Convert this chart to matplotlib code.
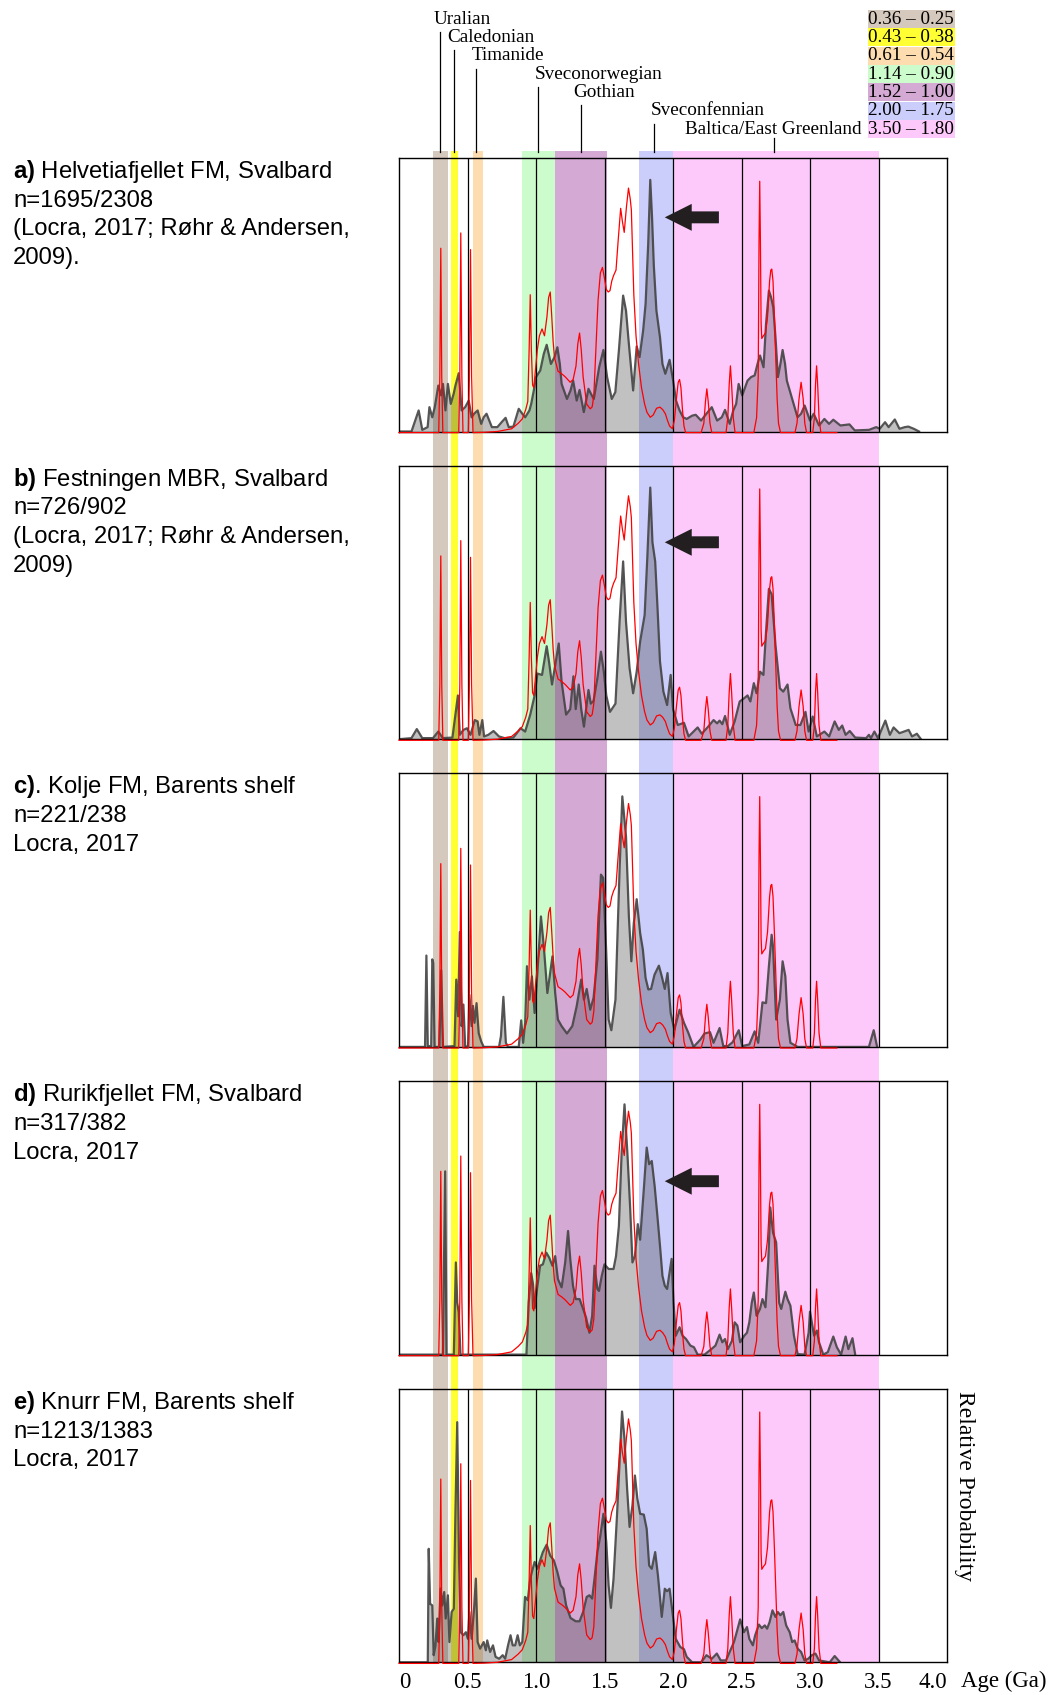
import numpy as np
import matplotlib.pyplot as plt

plt.rcParams['font.family'] = ['Liberation Sans', 'DejaVu Sans']
plt.rcParams['mathtext.fontset'] = 'custom'
plt.rcParams['mathtext.rm'] = 'Liberation Sans'
plt.rcParams['mathtext.bf'] = 'Liberation Sans:bold'
SERIF = ['Liberation Serif', 'DejaVu Serif']

# ---------------- data (age in Ga, relative probability as fraction of panel) ----------------
# red reference curve, same in every panel
red_curve = [(0.0, -0.004), (0.29, -0.004), (0.298, 0.2), (0.305, 0.67), (0.312, 0.2), (0.32, -0.004),
             (0.436, -0.004), (0.444, 0.2), (0.451, 0.726), (0.459, 0.2), (0.467, -0.004),
             (0.506, -0.004), (0.514, 0.2), (0.522, 0.665), (0.53, 0.2), (0.54, -0.004),
             (0.62, -0.003), (0.718, 0.0), (0.822, 0.01), (0.87, 0.03), (0.90, 0.046), (0.925, 0.08),
             (0.94, 0.11), (0.95, 0.3), (0.958, 0.50), (0.966, 0.3), (0.975, 0.17), (0.984, 0.16),
             (0.995, 0.22), (1.01, 0.30), (1.025, 0.35), (1.044, 0.375), (1.062, 0.35), (1.08, 0.42),
             (1.092, 0.49), (1.104, 0.51), (1.115, 0.42), (1.125, 0.33), (1.135, 0.27), (1.161, 0.22),
             (1.19, 0.21), (1.213, 0.20), (1.25, 0.18), (1.271, 0.19), (1.292, 0.24), (1.305, 0.32),
             (1.318, 0.36), (1.33, 0.3), (1.344, 0.2), (1.37, 0.10), (1.396, 0.083), (1.41, 0.09),
             (1.422, 0.13), (1.435, 0.28), (1.453, 0.48), (1.47, 0.58), (1.485, 0.60), (1.5, 0.56),
             (1.513, 0.52), (1.527, 0.51), (1.54, 0.515), (1.553, 0.55), (1.566, 0.57), (1.584, 0.59),
             (1.6, 0.7), (1.618, 0.816), (1.63, 0.77), (1.644, 0.728), (1.66, 0.82), (1.675, 0.89),
             (1.688, 0.85), (1.696, 0.81), (1.705, 0.65), (1.714, 0.50), (1.73, 0.35), (1.748, 0.25),
             (1.77, 0.16), (1.793, 0.10), (1.81, 0.07), (1.834, 0.052), (1.855, 0.06), (1.88, 0.085),
             (1.905, 0.089), (1.925, 0.08), (1.944, 0.065), (1.96, 0.04), (1.975, 0.02), (1.996, 0.01),
             (2.01, 0.04), (2.025, 0.12), (2.038, 0.18), (2.048, 0.19), (2.058, 0.16), (2.069, 0.08),
             (2.08, 0.02), (2.092, -0.004),
             (2.205, -0.004), (2.225, 0.03), (2.237, 0.11), (2.247, 0.156), (2.257, 0.11), (2.27, 0.03),
             (2.283, -0.004),
             (2.387, -0.004), (2.4, 0.05), (2.41, 0.17), (2.419, 0.24), (2.428, 0.17), (2.44, 0.05),
             (2.453, -0.004),
             (2.59, -0.004), (2.61, 0.05), (2.622, 0.2), (2.628, 0.7), (2.633, 0.915), (2.638, 0.7),
             (2.643, 0.4), (2.648, 0.34), (2.66, 0.35), (2.675, 0.36), (2.69, 0.42), (2.705, 0.55),
             (2.714, 0.59), (2.721, 0.594), (2.73, 0.55), (2.74, 0.42), (2.748, 0.3), (2.76, 0.12),
             (2.77, 0.03), (2.785, -0.004),
             (2.89, -0.004), (2.905, 0.03), (2.92, 0.12), (2.935, 0.18), (2.95, 0.12), (2.962, 0.03),
             (2.975, -0.004),
             (3.02, -0.004), (3.032, 0.05), (3.04, 0.17), (3.048, 0.24), (3.056, 0.17), (3.066, 0.05),
             (3.079, -0.004), (3.196, -0.004)]

helvetiafjellet = [(0, 0), (0.091, 0), (0.1435, 0.077), (0.17, 0.006), (0.209, 0.016), (0.222, 0.089),
                   (0.243, 0.052), (0.261, 0.089), (0.287, 0.168), (0.308, 0.132), (0.321, 0.174),
                   (0.339, 0.077), (0.357, 0.174), (0.378, 0.101), (0.399, 0.138), (0.412, 0.168),
                   (0.436, 0.213), (0.457, 0.077), (0.483, 0.089), (0.509, 0.113), (0.53, 0.052),
                   (0.548, 0.065), (0.574, 0.077), (0.6, 0.028), (0.618, 0.052), (0.639, 0.065),
                   (0.678, 0.016), (0.718, 0.016), (0.749, 0.034), (0.778, 0.05), (0.801, 0.016),
                   (0.835, 0.018), (0.874, 0.083), (0.9, 0.065), (0.921, 0.052), (0.952, 0.077),
                   (0.965, 0.101), (0.984, 0.15), (1.0, 0.199), (1.031, 0.223), (1.057, 0.284),
                   (1.078, 0.317), (1.109, 0.247), (1.135, 0.272), (1.156, 0.308), (1.174, 0.247),
                   (1.187, 0.174), (1.226, 0.119), (1.252, 0.15), (1.271, 0.186), (1.297, 0.113),
                   (1.318, 0.152), (1.349, 0.071), (1.383, 0.156), (1.401, 0.138), (1.422, 0.119),
                   (1.461, 0.235), (1.492, 0.298), (1.519, 0.199), (1.553, 0.119), (1.579, 0.144),
                   (1.605, 0.296), (1.636, 0.497), (1.657, 0.442), (1.678, 0.32), (1.709, 0.15),
                   (1.735, 0.311), (1.756, 0.272), (1.782, 0.369), (1.8, 0.467), (1.819, 0.686),
                   (1.834, 0.92), (1.847, 0.783), (1.86, 0.607), (1.879, 0.442), (1.905, 0.345),
                   (1.923, 0.247), (1.944, 0.211), (1.975, 0.262), (2.001, 0.186), (2.022, 0.113),
                   (2.048, 0.077), (2.074, 0.052), (2.1, 0.046), (2.14, 0.058), (2.166, 0.061),
                   (2.205, 0.04), (2.244, 0.065), (2.283, 0.089), (2.322, 0.04), (2.356, 0.052),
                   (2.38, 0.079), (2.414, 0.028), (2.44, 0.077), (2.461, 0.101), (2.479, 0.174),
                   (2.505, 0.132), (2.544, 0.186), (2.57, 0.199), (2.596, 0.205), (2.617, 0.247),
                   (2.635, 0.278), (2.661, 0.235), (2.679, 0.393), (2.7, 0.515), (2.716, 0.491),
                   (2.732, 0.454), (2.748, 0.345), (2.766, 0.199), (2.784, 0.247), (2.8, 0.298),
                   (2.818, 0.247), (2.831, 0.186), (2.87, 0.119), (2.909, 0.052), (2.935, 0.065),
                   (2.961, 0.095), (2.982, 0.065), (3.0, 0.04), (3.027, 0.065), (3.066, 0.022),
                   (3.105, 0.046), (3.139, 0.028), (3.17, 0.043), (3.222, 0.022), (3.288, 0.026),
                   (3.327, 0.004), (3.431, 0.006), (3.483, 0.016), (3.509, 0.01), (3.548, 0.034),
                   (3.574, 0.016), (3.619, 0.044), (3.653, 0.01), (3.692, 0.016), (3.718, 0.018),
                   (3.757, 0.01), (3.796, 0)]

festningen = [(0, 0), (0.091, 0.004), (0.13, 0.037), (0.17, 0.004), (0.248, 0.004), (0.287, 0.028),
              (0.32, 0.004), (0.39, 0.006), (0.43, 0.16), (0.444, 0.016), (0.47, 0.034), (0.496, 0.04),
              (0.522, 0.016), (0.553, 0.07), (0.574, 0.065), (0.587, 0.016), (0.608, 0.07), (0.621, 0.01),
              (0.652, 0.016), (0.69, 0.03), (0.73, 0.01), (0.77, 0.004), (0.835, 0.006), (0.887, 0.04),
              (0.921, 0.028), (0.958, 0.09), (0.99, 0.16), (1.01, 0.24), (1.044, 0.235), (1.078, 0.34),
              (1.096, 0.28), (1.117, 0.20), (1.14, 0.27), (1.166, 0.35), (1.187, 0.21), (1.22, 0.09),
              (1.25, 0.11), (1.273, 0.23), (1.29, 0.11), (1.312, 0.20), (1.33, 0.11), (1.35, 0.046),
              (1.383, 0.18), (1.40, 0.13), (1.42, 0.14), (1.448, 0.223), (1.474, 0.32), (1.495, 0.247),
              (1.513, 0.16), (1.54, 0.10), (1.58, 0.13), (1.61, 0.43), (1.636, 0.65), (1.657, 0.43),
              (1.683, 0.26), (1.709, 0.168), (1.735, 0.247), (1.76, 0.357), (1.793, 0.454), (1.813, 0.67),
              (1.834, 0.92), (1.85, 0.72), (1.87, 0.65), (1.886, 0.49), (1.905, 0.284), (1.93, 0.174),
              (1.957, 0.125), (1.983, 0.235), (2.0, 0.11), (2.035, 0.052), (2.08, 0.06), (2.114, 0.01),
              (2.18, 0.043), (2.21, 0.02), (2.257, 0.046), (2.296, 0.07), (2.322, 0.058), (2.34, 0.068),
              (2.36, 0.055), (2.38, 0.085), (2.414, 0.016), (2.45, 0.065), (2.487, 0.138), (2.52, 0.15),
              (2.544, 0.16), (2.565, 0.138), (2.59, 0.205), (2.61, 0.168), (2.635, 0.247), (2.66, 0.235),
              (2.68, 0.40), (2.70, 0.55), (2.72, 0.53), (2.748, 0.345), (2.78, 0.186), (2.805, 0.174),
              (2.836, 0.20), (2.857, 0.113), (2.896, 0.052), (2.93, 0.052), (2.967, 0.10), (2.99, 0.028),
              (3.02, 0.083), (3.05, 0.01), (3.105, 0.028), (3.14, 0.01), (3.18, 0.065), (3.21, 0.034),
              (3.235, 0.05), (3.26, 0.016), (3.29, 0.03), (3.33, 0.006), (3.41, 0.004), (3.43, 0.016),
              (3.445, 0.004), (3.47, 0.028), (3.496, 0.004), (3.55, 0.068), (3.583, 0.016), (3.61, 0.043),
              (3.653, 0.022), (3.72, 0.034), (3.745, 0.01), (3.78, 0.02), (3.81, 0)]

kolje = [(0, 0), (0.19, 0), (0.2, 0.334), (0.21, 0.003), (0.235, 0.003), (0.243, 0.32), (0.25, 0.307),
         (0.26, 0), (0.295, 0), (0.308, 0.28), (0.321, 0), (0.405, 0.003), (0.418, 0.246), (0.431, 0.112),
         (0.444, 0.42), (0.457, 0.076), (0.47, 0.155), (0.483, 0.003), (0.504, 0), (0.514, 0.19),
         (0.53, 0.076), (0.54, 0.15), (0.551, 0.088), (0.566, 0.16), (0.582, 0.05), (0.6, 0.02),
         (0.618, 0), (0.73, 0), (0.744, 0.039), (0.762, 0.183), (0.78, 0.015), (0.796, 0), (0.874, 0),
         (0.892, 0.097), (0.906, 0.015), (0.921, 0.088), (0.934, 0.295), (0.952, 0.173), (0.97, 0.258),
         (0.99, 0.124), (1.01, 0.27), (1.036, 0.477), (1.057, 0.368), (1.083, 0.197), (1.1, 0.258),
         (1.12, 0.331), (1.14, 0.197), (1.16, 0.10), (1.187, 0.076), (1.226, 0.049), (1.265, 0.076),
         (1.297, 0.149), (1.33, 0.246), (1.35, 0.173), (1.37, 0.212), (1.396, 0.136), (1.42, 0.179),
         (1.448, 0.32), (1.474, 0.63), (1.49, 0.618), (1.513, 0.343), (1.53, 0.10), (1.55, 0.061),
         (1.58, 0.173), (1.61, 0.648), (1.63, 0.916), (1.657, 0.77), (1.678, 0.477), (1.696, 0.313),
         (1.714, 0.453), (1.735, 0.54), (1.76, 0.417), (1.78, 0.356), (1.80, 0.252), (1.82, 0.21),
         (1.84, 0.212), (1.865, 0.264), (1.897, 0.297), (1.918, 0.258), (1.94, 0.212), (1.96, 0.27),
         (1.983, 0.124), (2.01, 0.063), (2.048, 0.136), (2.08, 0.088), (2.11, 0.054), (2.15, 0),
         (2.2, 0.027), (2.23, 0.049), (2.27, 0.054), (2.296, 0.015), (2.34, 0.069), (2.367, 0.003),
         (2.4, 0.003), (2.435, 0.017), (2.48, 0.061), (2.505, 0.003), (2.557, 0.009), (2.596, 0.057),
         (2.622, 0.015), (2.653, 0.163), (2.679, 0.16), (2.7, 0.295), (2.72, 0.41), (2.73, 0.368),
         (2.753, 0.10), (2.78, 0.173), (2.8, 0.313), (2.82, 0.258), (2.836, 0.10), (2.857, 0.015),
         (2.91, 0), (3.43, 0), (3.465, 0.061), (3.49, 0)]

rurikfjellet = [(0, 0), (0.32, 0), (0.337, 0.67), (0.347, 0), (0.4, 0), (0.415, 0.337), (0.425, 0.19),
                (0.436, 0.155), (0.449, 0), (0.93, 0), (0.947, 0.19), (0.965, 0.298), (0.978, 0.258),
                (0.99, 0.17), (1.01, 0.25), (1.03, 0.325), (1.05, 0.33), (1.075, 0.373), (1.096, 0.355),
                (1.12, 0.325), (1.14, 0.36), (1.16, 0.276), (1.187, 0.246), (1.213, 0.337), (1.234, 0.452),
                (1.25, 0.35), (1.27, 0.252), (1.29, 0.203), (1.318, 0.203), (1.344, 0.167), (1.365, 0.136),
                (1.39, 0.08), (1.41, 0.142), (1.427, 0.325), (1.448, 0.24), (1.46, 0.233), (1.48, 0.288),
                (1.5, 0.33), (1.53, 0.313), (1.566, 0.313), (1.584, 0.36), (1.605, 0.47), (1.625, 0.738),
                (1.646, 0.915), (1.667, 0.738), (1.688, 0.53), (1.704, 0.337), (1.722, 0.36), (1.743, 0.477),
                (1.76, 0.42), (1.787, 0.605), (1.808, 0.757), (1.826, 0.696), (1.845, 0.708), (1.866, 0.617),
                (1.886, 0.507), (1.905, 0.398), (1.923, 0.288), (1.94, 0.252), (1.957, 0.24), (1.975, 0.30),
                (1.99, 0.35), (2.004, 0.19), (2.02, 0.069), (2.048, 0.10), (2.07, 0.069), (2.095, 0.057),
                (2.127, 0.033), (2.153, 0.027), (2.18, 0), (2.23, 0), (2.28, 0.02), (2.31, 0.033),
                (2.34, 0.073), (2.36, 0.045), (2.38, 0.057), (2.4, 0.02), (2.43, 0.05), (2.45, 0.118),
                (2.47, 0.106), (2.49, 0.045), (2.52, 0.069), (2.54, 0.08), (2.557, 0.118), (2.575, 0.19),
                (2.59, 0.227), (2.61, 0.142), (2.635, 0.167), (2.653, 0.203), (2.675, 0.173), (2.695, 0.337),
                (2.71, 0.538), (2.73, 0.446), (2.753, 0.41), (2.775, 0.19), (2.79, 0.167), (2.82, 0.23),
                (2.836, 0.203), (2.857, 0.179), (2.883, 0.069), (2.91, 0.002), (2.96, 0), (2.99, 0.08),
                (3.0, 0.157), (3.03, 0.069), (3.05, 0.088), (3.066, 0.045), (3.097, 0), (3.13, 0.009),
                (3.17, 0.066), (3.196, 0.027), (3.227, 0), (3.26, 0.066), (3.28, 0.02), (3.31, 0.06),
                (3.33, 0)]

knurr = [(0, 0), (0.21, 0), (0.217, 0.415), (0.227, 0.214), (0.243, 0.208), (0.253, 0.026), (0.266, 0.06),
         (0.279, 0.16), (0.289, 0.074), (0.303, 0.27), (0.316, 0.208), (0.33, 0.257), (0.341, 0.16),
         (0.357, 0.245), (0.368, 0.074), (0.384, 0.184), (0.4, 0.196), (0.412, 0.55), (0.425, 0.878),
         (0.438, 0.379), (0.451, 0.11), (0.47, 0.099), (0.488, 0.11), (0.503, 0.086), (0.514, 0.184),
         (0.53, 0.086), (0.548, 0.196), (0.561, 0.306), (0.574, 0.074), (0.592, 0.05), (0.618, 0.074),
         (0.634, 0.044), (0.644, 0.08), (0.665, 0.038), (0.686, 0.062), (0.705, 0.02), (0.731, 0.013),
         (0.757, 0.026), (0.775, 0.013), (0.796, 0.062), (0.814, 0.099), (0.83, 0.062), (0.848, 0.062),
         (0.866, 0.099), (0.882, 0.062), (0.9, 0.074), (0.92, 0.239), (0.94, 0.227), (0.958, 0.306),
         (0.973, 0.336), (0.99, 0.367), (1.01, 0.342), (1.03, 0.373), (1.05, 0.403), (1.078, 0.43),
         (1.104, 0.39), (1.13, 0.373), (1.156, 0.33), (1.18, 0.281), (1.2, 0.269), (1.22, 0.208),
         (1.252, 0.162), (1.29, 0.15), (1.318, 0.15), (1.344, 0.184), (1.37, 0.239), (1.39, 0.245),
         (1.41, 0.233), (1.427, 0.306), (1.448, 0.403), (1.47, 0.464), (1.492, 0.543), (1.513, 0.44),
         (1.53, 0.281), (1.547, 0.199), (1.566, 0.306), (1.59, 0.525), (1.61, 0.732), (1.628, 0.917),
         (1.646, 0.817), (1.665, 0.635), (1.683, 0.495), (1.704, 0.574), (1.722, 0.683), (1.74, 0.598),
         (1.76, 0.543), (1.787, 0.54), (1.808, 0.488), (1.826, 0.354), (1.845, 0.342), (1.87, 0.403),
         (1.89, 0.318), (1.918, 0.166), (1.94, 0.269), (1.957, 0.26), (1.975, 0.269), (1.996, 0.184),
         (2.02, 0.086), (2.053, 0.056), (2.08, 0.048), (2.1, 0.02), (2.14, 0), (2.205, 0), (2.244, 0.026),
         (2.283, 0.013), (2.32, 0.032), (2.348, 0.007), (2.387, 0.007), (2.414, 0.038), (2.445, 0.074),
         (2.465, 0.11), (2.49, 0.157), (2.518, 0.11), (2.54, 0.129), (2.557, 0.086), (2.583, 0.062),
         (2.6, 0.099), (2.627, 0.138), (2.648, 0.125), (2.67, 0.135), (2.687, 0.123), (2.705, 0.147),
         (2.726, 0.19), (2.748, 0.166), (2.765, 0.184), (2.784, 0.172), (2.805, 0.184), (2.826, 0.135),
         (2.852, 0.11), (2.87, 0.074), (2.888, 0.08), (2.91, 0.05), (2.935, 0.038), (2.96, 0.007),
         (2.987, 0.013), (3.014, 0.026), (3.04, 0.032), (3.066, 0.007), (3.144, 0), (3.18, 0.023),
         (3.22, 0)]

# orogenic events (Ga)
band_old = [0.36, 0.43, 0.61, 1.14, 1.52, 2.00, 3.50]
band_young = [0.25, 0.38, 0.54, 0.90, 1.00, 1.75, 1.80]
band_colors = ['#d5c8bc', '#ffff33', '#fddcb0', '#ccfccc', '#d4a9d4', '#cbcdfa', '#fdc9fb']
band_order = [6, 4, 5, 3, 2, 1, 0]

event_names = ['Uralian', 'Caledonian', 'Timanide', 'Sveconorwegian', 'Gothian',
               'Sveconfennian', 'Baltica/East Greenland']
event_label_x = [0.252, 0.355, 0.533, 0.993, 1.27, 1.84, 2.09]
event_line_x = [0.30, 0.40, 0.562, 1.011, 1.328, 1.86, 2.734]

panel_tags = ['a)', 'b)', 'c)', 'd)', 'e)']
panel_titles = [' Helvetiafjellet FM, Svalbard', ' Festningen MBR, Svalbard', '. Kolje FM, Barents shelf',
                ' Rurikfjellet FM, Svalbard', ' Knurr FM, Barents shelf']
panel_n = ['n=1695/2308', 'n=726/902', 'n=221/238', 'n=317/382', 'n=1213/1383']
panel_refs = [['(Locra, 2017; Røhr & Andersen,', '2009).'],
              ['(Locra, 2017; Røhr & Andersen,', '2009)'],
              ['Locra, 2017'], ['Locra, 2017'], ['Locra, 2017']]
arrow_level = [0.783, 0.72, None, 0.634, None]
curves = [helvetiafjellet, festningen, kolje, rurikfjellet, knurr]

tick_vals = [0, 0.5, 1.0, 1.5, 2.0, 2.5, 3.0, 3.5, 4.0]
tick_labels = ['0', '0.5', '1.0', '1.5', '2.0', '2.5', '3.0', '3.5', '4.0']

# ---------------- layout ----------------
W, H = 1053, 1695
fig = plt.figure(figsize=(W / 100, H / 100), dpi=100)


def fx(px):
    return px / W


def fy(py):
    return 1 - py / H


X0, X1 = 399, 947
BAND_TOP = 151
TOP0, PH, STEP = 158, 273.5, 307.7
bottom_last = TOP0 + 4 * STEP + PH

# coloured bands behind all panels
ax_bg = fig.add_axes([fx(X0), fy(bottom_last), (X1 - X0) / W, (bottom_last - BAND_TOP) / H])
ax_bg.set_xlim(0, 4)
ax_bg.set_ylim(0, 1)
ax_bg.axis('off')
for k in band_order:
    ax_bg.axvspan(band_young[k], band_old[k], color=band_colors[k], lw=0)

red_age, red_p = np.array(red_curve).T

for i, pts in enumerate(curves):
    top = TOP0 + i * STEP
    ax = fig.add_axes([fx(X0), fy(top + PH), (X1 - X0) / W, PH / H])
    ax.patch.set_alpha(0)
    ax.set_xlim(0, 4)
    ax.set_ylim(0, 1)
    age, p = np.array(pts).T
    ax.fill_between(age, 0, p, color='#444444', alpha=0.33, lw=0, zorder=1)
    ax.plot(age, p, color='#444444', lw=1.6, alpha=0.9, zorder=2)
    for v in tick_vals[1:-1]:
        ax.axvline(v, color='black', lw=0.9, zorder=2.2)
    ax.plot(red_age, red_p, color='red', lw=0.9, zorder=3, clip_on=False)
    for s in ax.spines.values():
        s.set_linewidth(1.0)
    ax.set_yticks([])
    ax.set_xticks(tick_vals)
    ax.tick_params(length=0, labelbottom=(i == 4), pad=7)
    if i == 4:
        ax.set_xticklabels(tick_labels, fontfamily=SERIF, fontsize=16.5)
        labs = ax.get_xticklabels()
        labs[0].set_ha('left')
        labs[-1].set_ha('right')
    if arrow_level[i] is not None:
        ax.annotate('', xy=(1.94, arrow_level[i]), xytext=(2.335, arrow_level[i]),
                    arrowprops=dict(arrowstyle='simple,head_length=0.97,head_width=0.97,tail_width=0.43',
                                    mutation_scale=20, fc='#231f20', ec='none',
                                    shrinkA=0, shrinkB=0), zorder=5)

    # sample description on the left
    lines = [r'$\mathbf{' + panel_tags[i] + '}$' + panel_titles[i], panel_n[i]] + panel_refs[i]
    for j, line in enumerate(lines):
        fig.text(fx(13), fy(top + 20 + j * 28.7), line, fontsize=17.2, va='baseline', ha='left')

# event labels, leader lines and age legend at the top
ax_top = fig.add_axes([fx(X0), fy(BAND_TOP), (X1 - X0) / W, BAND_TOP / H])
ax_top.set_xlim(0, 4)
ax_top.set_ylim(BAND_TOP, 0)
ax_top.axis('off')
ROW0, ROW = 19, 18.35
for k, name in enumerate(event_names):
    yc = ROW0 + k * ROW
    ax_top.text(event_label_x[k], yc, name, fontfamily=SERIF, fontsize=13.8, va='center', ha='left')
    ax_top.plot([event_line_x[k]] * 2, [yc + (9 if k == 6 else 13), BAND_TOP + 1],
                color='black', lw=0.9, clip_on=False)
    ax_top.text(3.425, yc, f'{band_old[k]:.2f} – {band_young[k]:.2f}', fontfamily=SERIF,
                fontsize=13.8, va='center', ha='left',
                bbox=dict(boxstyle='square,pad=0.03', fc=band_colors[k], ec='none'))

fig.text(fx(961), fy(1681), 'Age (Ga)', fontfamily=SERIF, fontsize=16.5, va='center', ha='left')
fig.text(fx(965), fy(1391), 'Relative Probability', fontfamily=SERIF, fontsize=17,
         rotation=270, va='top', ha='center')

fig.savefig('out.png', dpi=100)
